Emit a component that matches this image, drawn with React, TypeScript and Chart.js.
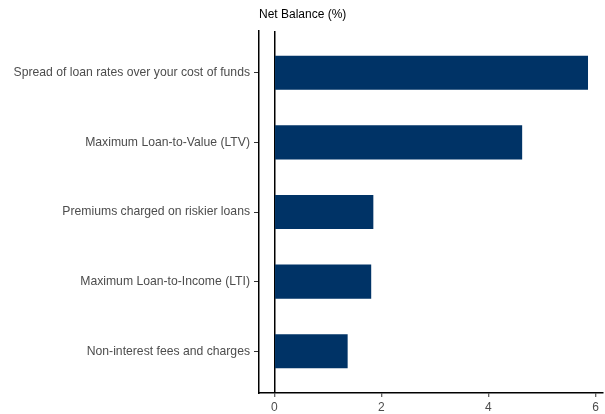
import React, { useEffect, useRef } from "react";
import { Chart, registerables } from "chart.js";

Chart.register(...registerables);

const categories = [
  "Spread of loan rates over your cost of funds",
  "Maximum Loan-to-Value (LTV)",
  "Premiums charged on riskier loans",
  "Maximum Loan-to-Income (LTI)",
  "Non-interest fees and charges",
];
const values = [5.86, 4.63, 1.85, 1.81, 1.37];
const xTicks = [0, 2, 4, 6];
const axisTitle = "Net Balance (%)";

const FONT = "Liberation Sans, Arial, Helvetica, sans-serif";

export default function App() {
  const ref = useRef<HTMLCanvasElement>(null);
  useEffect(() => {
    document.body.style.margin = "0";
    const titlePlugin = {
      id: "topTitle",
      afterDraw(chart: any) {
        const c = chart.ctx;
        c.save();
        c.font = `12px ${FONT}`;
        c.fillStyle = "#000";
        c.textBaseline = "middle";
        c.textAlign = "left";
        c.fillText(axisTitle, chart.chartArea.left, 15);
        c.restore();
      },
    };
    const chart = new Chart(ref.current!, {
      type: "bar",
      data: {
        datasets: [
          {
            data: values.map((v, i) => ({ x: v, y: i })),
            backgroundColor: "#003366",
            borderWidth: 0,
            barPercentage: 0.49,
            categoryPercentage: 1,
          },
        ],
      },
      plugins: [titlePlugin],
      options: {
        indexAxis: "y",
        animation: false,
        responsive: false,
        maintainAspectRatio: false,
        layout: { padding: { top: 31, right: 2, left: 0, bottom: 0 } },
        plugins: { legend: { display: false }, tooltip: { enabled: false }, title: { display: false } },
        scales: {
          y: {
            type: "linear",
            reverse: true,
            offset: false,
            min: -0.6,
            max: categories.length - 1 + 0.6,
            afterBuildTicks: (s: any) => {
              s.ticks = categories.map((_, i) => ({ value: i }));
            },
            afterFit: (s: any) => {
              s.width = 259;
            },
            border: { display: true, color: "#000", width: 1.5 },
            grid: { offset: false, drawOnChartArea: false, drawTicks: true, tickLength: 5, tickColor: "#333", tickWidth: 1 },
            ticks: {
              padding: 4,
              color: "#4d4d4d",
              font: { family: FONT, size: 12.2 },
              callback: (v: any) => categories[v as number] ?? "",
            },
          },
          x: {
            type: "linear",
            min: -0.286,
            max: 6.14,
            afterBuildTicks: (s: any) => {
              s.ticks = xTicks.map((v) => ({ value: v }));
            },
            afterFit: (s: any) => {
              s.height = 21;
            },
            border: { display: true, color: "#000", width: 1.5 },
            grid: {
              drawOnChartArea: true,
              color: (ctx: any) => (ctx.tick && ctx.tick.value === 0 ? "#000" : "rgba(0,0,0,0)"),
              lineWidth: 1.5,
              drawTicks: true,
              tickLength: 4,
              tickColor: "#333",
              tickWidth: 1,
            },
            ticks: {
              padding: 3,
              color: "#4d4d4d",
              font: { family: FONT, size: 12 },
            },
          },
        },
      },
    } as any);
    return () => chart.destroy();
  }, []);
  return <canvas ref={ref} width={605} height={414} style={{ display: "block", width: 605, height: 414 }} />;
}
